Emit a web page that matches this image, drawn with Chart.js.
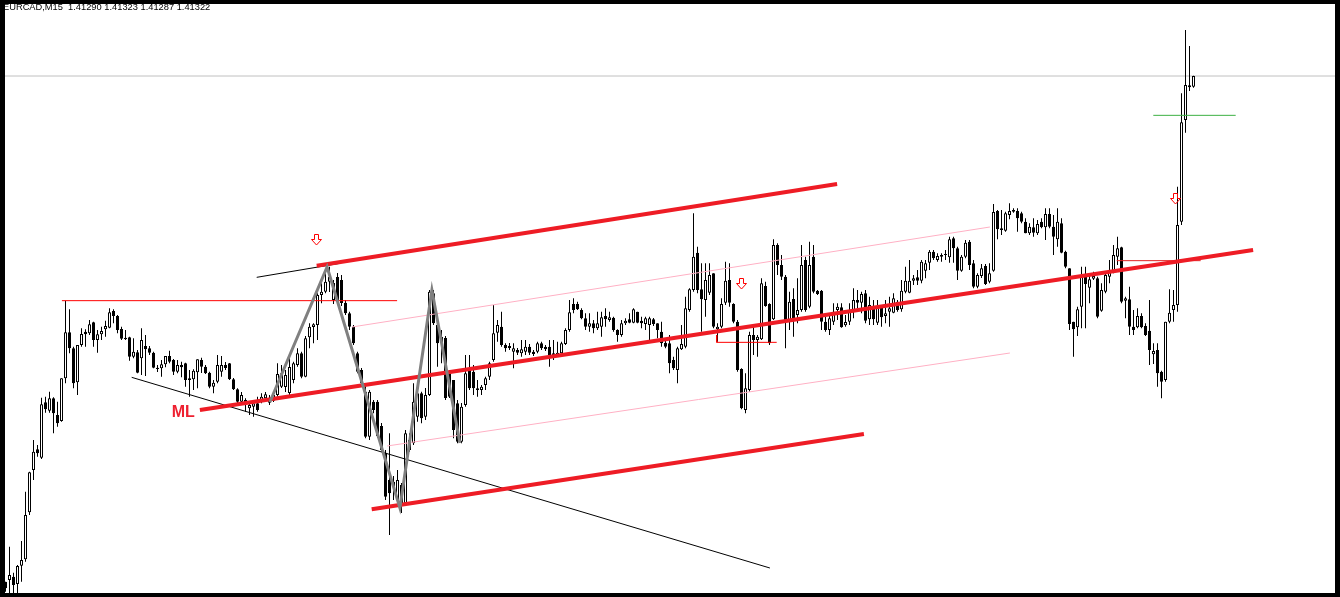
<!DOCTYPE html>
<html>
<head>
<meta charset="utf-8">
<title>EURCAD,M15</title>
<script src="https://cdn.jsdelivr.net/npm/chart.js"></script>
<style>
  body { margin: 0; background: #fff; }
  #frame { position: relative; width: 1340px; height: 597px; background: #000; }
  #plot { position: absolute; left: 5px; top: 4px; width: 1330px; height: 589px; background: #fff; overflow: hidden; }
  #myCanvas { position: absolute; left: 0; top: 0; }
  #title { position: absolute; left: -2px; top: -1px; font-family: "Liberation Sans", Arial, sans-serif; font-size: 9.3px; line-height: 1; white-space: pre; color: #000; }
</style>
</head>
<body>
<div id="frame">
  <div id="plot">
    <canvas id="myCanvas" width="1330" height="589"></canvas>
    <div id="title">EURCAD,M15  1.41290 1.41323 1.41287 1.41322</div>
  </div>
</div>
<script>
// M15 bars, oldest first (bar index = position on x)
const opens = [
  1.39805,1.39810,1.39820,1.39798,1.39853,1.39872,1.40013,1.40140,1.40202,1.40177,
  1.40343,1.40318,1.40355,1.40305,1.40287,1.40415,1.40553,1.40505,1.40403,1.40515,
  1.40555,1.40550,1.40583,1.40530,1.40547,1.40562,1.40567,1.40617,1.40602,1.40563,
  1.40537,1.40538,1.40480,1.40493,1.40475,1.40512,1.40505,1.40492,1.40447,1.40445,
  1.40457,1.40482,1.40470,1.40435,1.40455,1.40460,1.40415,1.40412,1.40433,1.40470,
  1.40450,1.40432,1.40390,1.40405,1.40435,1.40455,1.40460,1.40412,1.40382,1.40345,
  1.40350,1.40325,1.40330,1.40340,1.40345,1.40355,1.40342,1.40348,1.40365,1.40390,
  1.40389,1.40371,1.40410,1.40455,1.40490,1.40420,1.40538,1.40569,1.40575,1.40665,
  1.40675,1.40705,1.40650,1.40719,1.40710,1.40642,1.40610,1.40570,1.40490,1.40440,
  1.40375,1.40240,1.40345,1.40345,1.40272,1.40192,1.40110,1.40090,1.40050,1.40095,
  1.40040,1.40200,1.40220,1.40300,1.40370,1.40300,1.40365,1.40670,1.40575,1.40520,
  1.40536,1.40430,1.40410,1.40340,1.40225,1.40335,1.40440,1.40435,1.40380,1.40380,
  1.40395,1.40420,1.40470,1.40552,1.40570,1.40515,1.40512,1.40495,1.40500,1.40490,
  1.40495,1.40510,1.40495,1.40495,1.40520,1.40510,1.40510,1.40490,1.40482,1.40490,
  1.40518,1.40560,1.40638,1.40638,1.40620,1.40595,1.40570,1.40580,1.40565,1.40570,
  1.40602,1.40590,1.40597,1.40560,1.40545,1.40580,1.40592,1.40582,1.40615,1.40588,
  1.40578,1.40575,1.40592,1.40580,1.40555,1.40522,1.40520,1.40470,1.40440,1.40502,
  1.40510,1.40620,1.40680,1.40792,1.40682,1.40650,1.40672,1.40730,1.40562,1.40570,
  1.40642,1.40710,1.40638,1.40585,1.40443,1.40320,1.40380,1.40545,1.40530,1.40532,
  1.40692,1.40638,1.40592,1.40815,1.40755,1.40720,1.40590,1.40653,1.40605,1.40620,
  1.40770,1.40630,1.40780,1.40678,1.40678,1.40585,1.40560,1.40585,1.40620,1.40628,
  1.40574,1.40585,1.40618,1.40650,1.40642,1.40670,1.40592,1.40625,1.40582,1.40628,
  1.40602,1.40615,1.40612,1.40645,1.40622,1.40675,1.40672,1.40708,1.40718,1.40708,
  1.40738,1.40762,1.40795,1.40770,1.40780,1.40785,1.40778,1.40835,1.40805,1.40738,
  1.40780,1.40825,1.40760,1.40690,1.40722,1.40752,1.40705,1.40738,1.40917,1.40865,
  1.40858,1.40905,1.40915,1.40917,1.40910,1.40885,1.40850,1.40868,1.40850,1.40885,
  1.40868,1.40908,1.40870,1.40832,1.40880,1.40795,1.40745,1.40585,1.40568,1.40630,
  1.40725,1.40687,1.40714,1.40715,1.40618,1.40675,1.40720,1.40735,1.40780,1.40808,
  1.40648,1.40652,1.40570,1.40568,1.40602,1.40572,1.40558,1.40487,1.40500,1.40435,
  1.40410,1.40585,1.40620,1.40635,1.40885,1.41190,1.41294,1.41290
];
const highs = [
  1.39805,1.39910,1.39832,1.39855,1.39927,1.40075,1.40135,1.40230,1.40215,1.40357,
  1.40360,1.40375,1.40358,1.40345,1.40415,1.40648,1.40622,1.40510,1.40515,1.40565,
  1.40562,1.40590,1.40585,1.40560,1.40570,1.40588,1.40625,1.40622,1.40605,1.40570,
  1.40560,1.40540,1.40535,1.40500,1.40565,1.40545,1.40512,1.40495,1.40455,1.40470,
  1.40482,1.40498,1.40473,1.40470,1.40465,1.40462,1.40440,1.40442,1.40472,1.40477,
  1.40455,1.40435,1.40410,1.40485,1.40482,1.40464,1.40461,1.40416,1.40385,1.40374,
  1.40355,1.40345,1.40350,1.40360,1.40370,1.40374,1.40365,1.40371,1.40460,1.40455,
  1.40440,1.40479,1.40465,1.40505,1.40495,1.40542,1.40580,1.40580,1.40670,1.40700,
  1.40745,1.40750,1.40710,1.40731,1.40725,1.40650,1.40615,1.40575,1.40495,1.40446,
  1.40400,1.40380,1.40350,1.40350,1.40281,1.40200,1.40250,1.40122,1.40140,1.40101,
  1.40260,1.40250,1.40400,1.40380,1.40375,1.40386,1.40680,1.40680,1.40590,1.40560,
  1.40542,1.40440,1.40410,1.40350,1.40341,1.40485,1.40485,1.40455,1.40410,1.40395,
  1.40420,1.40465,1.40635,1.40590,1.40615,1.40520,1.40521,1.40520,1.40506,1.40530,
  1.40530,1.40518,1.40500,1.40525,1.40525,1.40515,1.40530,1.40530,1.40525,1.40525,
  1.40565,1.40650,1.40655,1.40645,1.40625,1.40610,1.40610,1.40590,1.40615,1.40615,
  1.40625,1.40615,1.40600,1.40562,1.40590,1.40595,1.40610,1.40625,1.40615,1.40600,
  1.40600,1.40600,1.40596,1.40580,1.40585,1.40530,1.40545,1.40480,1.40510,1.40575,
  1.40660,1.40685,1.40910,1.40810,1.40760,1.40760,1.40760,1.40730,1.40580,1.40655,
  1.40765,1.40760,1.40640,1.40590,1.40445,1.40430,1.40555,1.40570,1.40545,1.40715,
  1.40705,1.40640,1.40832,1.40820,1.40785,1.40725,1.40675,1.40685,1.40715,1.40815,
  1.40780,1.40825,1.40815,1.40680,1.40680,1.40610,1.40610,1.40640,1.40640,1.40640,
  1.40605,1.40640,1.40685,1.40680,1.40675,1.40680,1.40660,1.40650,1.40650,1.40635,
  1.40650,1.40660,1.40670,1.40650,1.40710,1.40750,1.40770,1.40725,1.40740,1.40770,
  1.40770,1.40800,1.40800,1.40790,1.40790,1.40800,1.40840,1.40840,1.40810,1.40785,
  1.40830,1.40830,1.40770,1.40730,1.40758,1.40758,1.40760,1.40938,1.40920,1.40920,
  1.40915,1.40940,1.40925,1.40925,1.40915,1.40895,1.40880,1.40895,1.40890,1.40895,
  1.40925,1.40925,1.40905,1.40925,1.40895,1.40798,1.40745,1.40585,1.40630,1.40750,
  1.40750,1.40730,1.40735,1.40720,1.40700,1.40735,1.40770,1.40815,1.40840,1.40810,
  1.40660,1.40690,1.40620,1.40625,1.40610,1.40580,1.40650,1.40520,1.40520,1.40438,
  1.40585,1.40682,1.40680,1.40990,1.41270,1.41460,1.41412,1.41323
];
const lows = [
  1.39775,1.39770,1.39770,1.39770,1.39805,1.39865,1.40005,1.40110,1.40180,1.40173,
  1.40312,1.40312,1.40250,1.40270,1.40285,1.40400,1.40490,1.40385,1.40365,1.40510,
  1.40510,1.40545,1.40510,1.40492,1.40530,1.40540,1.40565,1.40580,1.40550,1.40530,
  1.40530,1.40468,1.40475,1.40430,1.40425,1.40422,1.40485,1.40445,1.40434,1.40420,
  1.40448,1.40460,1.40425,1.40430,1.40418,1.40390,1.40360,1.40380,1.40385,1.40431,
  1.40428,1.40385,1.40370,1.40400,1.40420,1.40440,1.40410,1.40380,1.40340,1.40341,
  1.40315,1.40305,1.40300,1.40315,1.40340,1.40350,1.40335,1.40344,1.40360,1.40386,
  1.40374,1.40365,1.40400,1.40450,1.40415,1.40418,1.40505,1.40520,1.40530,1.40640,
  1.40670,1.40674,1.40638,1.40635,1.40632,1.40605,1.40560,1.40515,1.40430,1.40395,
  1.40235,1.40230,1.40310,1.40236,1.40194,1.40050,1.39945,1.40050,1.40041,1.40011,
  1.40035,1.40195,1.40215,1.40285,1.40280,1.40290,1.40362,1.40575,1.40450,1.40460,
  1.40350,1.40356,1.40235,1.40220,1.40220,1.40330,1.40380,1.40365,1.40360,1.40365,
  1.40380,1.40410,1.40465,1.40525,1.40510,1.40495,1.40500,1.40445,1.40485,1.40480,
  1.40485,1.40485,1.40482,1.40490,1.40500,1.40497,1.40450,1.40470,1.40480,1.40485,
  1.40515,1.40555,1.40610,1.40620,1.40592,1.40560,1.40555,1.40550,1.40560,1.40540,
  1.40570,1.40585,1.40555,1.40525,1.40540,1.40575,1.40580,1.40580,1.40580,1.40565,
  1.40560,1.40530,1.40572,1.40535,1.40510,1.40505,1.40430,1.40440,1.40400,1.40500,
  1.40505,1.40615,1.40675,1.40670,1.40555,1.40600,1.40665,1.40565,1.40525,1.40565,
  1.40635,1.40630,1.40580,1.40435,1.40322,1.40310,1.40375,1.40485,1.40480,1.40530,
  1.40630,1.40515,1.40590,1.40725,1.40710,1.40505,1.40560,1.40540,1.40580,1.40615,
  1.40615,1.40625,1.40670,1.40665,1.40560,1.40555,1.40545,1.40575,1.40590,1.40567,
  1.40570,1.40575,1.40595,1.40625,1.40610,1.40580,1.40575,1.40575,1.40575,1.40570,
  1.40580,1.40570,1.40610,1.40615,1.40615,1.40670,1.40670,1.40695,1.40695,1.40700,
  1.40715,1.40740,1.40770,1.40765,1.40765,1.40770,1.40762,1.40762,1.40710,1.40735,
  1.40775,1.40740,1.40685,1.40685,1.40716,1.40695,1.40700,1.40735,1.40832,1.40845,
  1.40855,1.40892,1.40912,1.40855,1.40880,1.40850,1.40845,1.40840,1.40845,1.40865,
  1.40830,1.40865,1.40785,1.40810,1.40790,1.40745,1.40560,1.40480,1.40542,1.40565,
  1.40565,1.40640,1.40710,1.40595,1.40615,1.40670,1.40700,1.40730,1.40755,1.40640,
  1.40595,1.40545,1.40545,1.40565,1.40565,1.40542,1.40455,1.40458,1.40390,1.40355,
  1.40405,1.40580,1.40585,1.40615,1.40875,1.41152,1.41277,1.41287
];
const closes = [
  1.39785,1.39825,1.39795,1.39852,1.39870,1.40005,1.40133,1.40195,1.40190,1.40337,
  1.40322,1.40355,1.40310,1.40280,1.40415,1.40553,1.40505,1.40400,1.40515,1.40548,
  1.40547,1.40577,1.40530,1.40547,1.40557,1.40572,1.40613,1.40602,1.40560,1.40534,
  1.40532,1.40480,1.40495,1.40432,1.40530,1.40502,1.40492,1.40447,1.40443,1.40457,
  1.40482,1.40465,1.40435,1.40455,1.40448,1.40410,1.40410,1.40438,1.40472,1.40450,
  1.40430,1.40390,1.40402,1.40455,1.40455,1.40446,1.40412,1.40382,1.40345,1.40365,
  1.40340,1.40335,1.40340,1.40320,1.40360,1.40367,1.40355,1.40365,1.40428,1.40430,
  1.40425,1.40449,1.40460,1.40490,1.40420,1.40535,1.40570,1.40577,1.40665,1.40675,
  1.40705,1.40720,1.40701,1.40644,1.40641,1.40610,1.40570,1.40520,1.40435,1.40400,
  1.40240,1.40375,1.40320,1.40242,1.40200,1.40060,1.40070,1.40105,1.40110,1.40040,
  1.40250,1.40230,1.40345,1.40370,1.40295,1.40365,1.40675,1.40580,1.40520,1.40540,
  1.40356,1.40360,1.40260,1.40225,1.40330,1.40430,1.40385,1.40385,1.40385,1.40390,
  1.40415,1.40460,1.40550,1.40575,1.40515,1.40505,1.40506,1.40505,1.40492,1.40502,
  1.40510,1.40492,1.40488,1.40520,1.40505,1.40502,1.40485,1.40480,1.40492,1.40520,
  1.40560,1.40613,1.40620,1.40622,1.40595,1.40570,1.40580,1.40565,1.40580,1.40598,
  1.40592,1.40598,1.40560,1.40545,1.40580,1.40588,1.40582,1.40622,1.40582,1.40580,
  1.40595,1.40595,1.40578,1.40560,1.40520,1.40510,1.40460,1.40445,1.40505,1.40518,
  1.40625,1.40682,1.40780,1.40680,1.40652,1.40710,1.40725,1.40570,1.40570,1.40638,
  1.40708,1.40642,1.40585,1.40440,1.40325,1.40385,1.40545,1.40530,1.40540,1.40700,
  1.40632,1.40520,1.40815,1.40755,1.40720,1.40590,1.40645,1.40590,1.40620,1.40755,
  1.40620,1.40755,1.40675,1.40668,1.40585,1.40560,1.40595,1.40615,1.40630,1.40568,
  1.40584,1.40615,1.40650,1.40642,1.40668,1.40588,1.40635,1.40592,1.40628,1.40598,
  1.40610,1.40625,1.40655,1.40620,1.40678,1.40708,1.40708,1.40715,1.40708,1.40765,
  1.40760,1.40795,1.40775,1.40782,1.40785,1.40788,1.40832,1.40805,1.40738,1.40780,
  1.40822,1.40755,1.40690,1.40725,1.40745,1.40698,1.40730,1.40914,1.40862,1.40860,
  1.40910,1.40917,1.40920,1.40895,1.40885,1.40850,1.40870,1.40852,1.40878,1.40868,
  1.40908,1.40870,1.40840,1.40885,1.40792,1.40750,1.40578,1.40562,1.40622,1.40725,
  1.40698,1.40712,1.40722,1.40600,1.40680,1.40725,1.40735,1.40785,1.40805,1.40645,
  1.40655,1.40570,1.40560,1.40602,1.40568,1.40545,1.40500,1.40497,1.40430,1.40405,
  1.40585,1.40612,1.40635,1.40875,1.41183,1.41295,1.41288,1.41322
];

// drawn objects, as [bar index, price] points
const bidPrice = 1.41322;
const upperLine = [[77.8, 1.40753], [207.9, 1.40998]];
const medianLine = [[48.6, 1.40320], [311.9, 1.40800]];
const lowerLine = [[91.55, 1.40022], [214.6, 1.40248]];
const upperPink = [[86.6, 1.40569], [246.1, 1.40869]];
const lowerPink = [[95.4, 1.40212], [251.1, 1.40491]];
const longTrend = [[31.55, 1.40418], [191.1, 1.39846]];
const shortTrend = [[62.8, 1.40718], [83.6, 1.40760]];
const zigzag = [[66.1, 1.40344], [80.4, 1.40749], [98.6, 1.40026], [106.6, 1.40680], [113.6, 1.40221]];
const highLevel = [[14.1, 1.40648], [97.9, 1.40648]];
const bracketLevel = [[177.8, 1.40545], [177.8, 1.40523], [192.8, 1.40523]];
const rightLevel = [[277.8, 1.40768], [298.8, 1.40768]];
const greenLevel = [[286.95, 1.41204], [307.55, 1.41204]];
const arrows = [[77.75, 1.40830], [184, 1.40698], [292.5, 1.40953]];
const mlLabel = ["ML", 41.55, 1.40298];

function toXY(list) {
  return list.map(p => ({ x: p[0], y: p[1] }));
}

function lineSet(points, color, width) {
  return {
    type: "line",
    data: toXY(points),
    borderColor: color,
    borderWidth: width,
    pointRadius: 0,
    fill: false,
    tension: 0,
    order: 0
  };
}

function arrowIcon() {
  let c = document.createElement("canvas");
  c.width = 11;
  c.height = 12;
  let g = c.getContext("2d");
  g.strokeStyle = "#ff0000";
  g.lineWidth = 1;
  g.beginPath();
  g.moveTo(3.5, 0.5);
  g.lineTo(7.5, 0.5);
  g.lineTo(7.5, 5.5);
  g.lineTo(10.5, 5.5);
  g.lineTo(5.5, 11);
  g.lineTo(0.5, 5.5);
  g.lineTo(3.5, 5.5);
  g.closePath();
  g.stroke();
  return c;
}

let wickData = [];
let bodyData = [];
let bodyColors = [];
closes.forEach((c, i) => {
  wickData.push({ x: i, y: [lows[i], highs[i]] });
  bodyData.push({ x: i, y: [opens[i], c] });
  bodyColors.push(c > opens[i] ? "#ffffff" : "#000000");
});

const textPlugin = {
  id: "mlText",
  afterDatasetsDraw(chart) {
    const ctx = chart.ctx;
    ctx.save();
    ctx.font = "bold 16px 'Liberation Sans', Arial, sans-serif";
    ctx.fillStyle = "#ee2030";
    ctx.textAlign = "left";
    ctx.textBaseline = "alphabetic";
    ctx.fillText(mlLabel[0], chart.scales.x.getPixelForValue(mlLabel[1]), chart.scales.y.getPixelForValue(mlLabel[2]));
    ctx.restore();
  }
};

const ctx = document.getElementById("myCanvas");
new Chart(ctx, {
  type: "bar",
  data: {
    datasets: [
      lineSet(zigzag, "#808080", 3),
      lineSet(upperLine, "#ee1c25", 4),
      lineSet(medianLine, "#ee1c25", 4),
      lineSet(lowerLine, "#ee1c25", 4),
      lineSet(upperPink, "#ffb0c4", 1),
      lineSet(lowerPink, "#ffb0c4", 1),
      lineSet(longTrend, "#000000", 1),
      lineSet(shortTrend, "#000000", 1),
      lineSet(highLevel, "#ff0000", 1),
      lineSet(bracketLevel, "#ff0000", 1),
      lineSet(rightLevel, "#e02020", 1),
      lineSet(greenLevel, "#3cb043", 1),
      {
        type: "line",
        data: toXY(arrows),
        showLine: false,
        pointStyle: arrowIcon(),
        pointRadius: 6,
        order: 0
      },
      {
        type: "bar",
        data: bodyData,
        backgroundColor: bodyColors,
        borderColor: "#000000",
        borderWidth: 1,
        borderSkipped: false,
        inflateAmount: 0,
        minBarLength: 1,
        barThickness: 3,
        grouped: false,
        order: 2
      },
      {
        type: "bar",
        data: wickData,
        backgroundColor: "#000000",
        borderWidth: 0,
        inflateAmount: 0,
        minBarLength: 1,
        barThickness: 1,
        grouped: false,
        order: 3
      },
      {
        type: "line",
        data: toXY([[-1, bidPrice], [334, bidPrice]]),
        borderColor: "#c0c0c0",
        borderWidth: 1,
        pointRadius: 0,
        order: 4
      }
    ]
  },
  options: {
    responsive: false,
    animation: false,
    devicePixelRatio: 1,
    events: [],
    layout: { autoPadding: false, padding: 0 },
    plugins: {
      legend: { display: false },
      tooltip: { enabled: false }
    },
    scales: {
      x: { type: "linear", min: -0.125, max: 332.375, offset: false, display: false },
      y: { type: "linear", min: 1.39771, max: 1.41538, display: false }
    }
  },
  plugins: [textPlugin]
});
</script>
</body>
</html>
